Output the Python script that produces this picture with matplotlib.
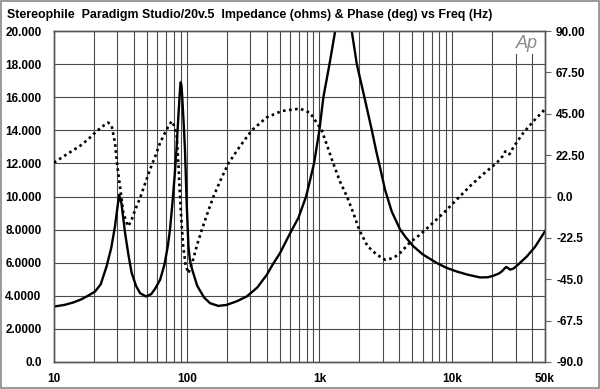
import matplotlib
matplotlib.use('Agg')
import matplotlib.pyplot as plt
from matplotlib.patches import Rectangle
import numpy as np

plt.rcParams['font.family'] = ['Liberation Sans', 'DejaVu Sans']

title = 'Stereophile  Paradigm Studio/20v.5  Impedance (ohms) & Phase (deg) vs Freq (Hz)'

# impedance magnitude (ohms), solid trace
f_z = [10, 12, 14, 16, 18, 20.4, 22.5, 24.9, 27, 28.8, 30, 31, 32.2, 34.3, 36.5,
       38.5, 41.5, 44.5, 49.3, 54, 58, 63, 68, 72, 74.8, 78, 81, 84, 87, 89,
       90, 91.3, 92.5, 95, 97, 100, 103, 105.5, 108, 112, 120, 135, 150, 173,
       200, 240, 283, 340, 401, 445, 505, 560, 621, 693, 793, 850, 910, 998,
       1070, 1190, 1313, 1420, 1530, 1640, 1750, 1910, 2180, 2480, 2700, 2870,
       3120, 3500, 4050, 4500, 5100, 6000, 7660, 9000, 10800, 13000, 16200,
       18500, 20400, 22500, 23600, 24800, 25500, 26500, 27300, 29000, 32000,
       36500, 42000, 50000]
z = [3.35, 3.45, 3.6, 3.78, 4.0, 4.26, 4.7, 5.78, 6.9, 8.2, 9.3, 10.1, 9.6, 7.8,
     6.4, 5.37, 4.6, 4.16, 3.96, 4.1, 4.45, 4.97, 5.9, 7.0, 8.0, 9.6, 11.2,
     13.05, 15.2, 16.5, 16.9, 16.7, 16.0, 14.3, 12.8, 9.5, 7.0, 6.2, 5.8, 5.37,
     4.6, 3.9, 3.55, 3.39, 3.45, 3.68, 3.96, 4.5, 5.27, 5.9, 6.59, 7.3, 8.0,
     8.7, 10.0, 11.0, 12.0, 14.0, 16.0, 18.0, 20.0, 21.2, 21.6, 21.2, 20.0,
     18.0, 16.0, 14.0, 12.6, 11.7, 10.4, 9.1, 8.0, 7.5, 6.99, 6.5, 5.98, 5.7,
     5.47, 5.28, 5.11, 5.12, 5.21, 5.35, 5.47, 5.65, 5.74, 5.66, 5.58, 5.65,
     5.95, 6.38, 6.95, 7.9]

# phase (degrees), dotted trace
f_p = [10, 12.5, 15.7, 18, 20.4, 23, 25.6, 27.2, 28.8, 30, 31.4, 33.3, 35.3,
       36.3, 38.5, 41, 44.5, 48, 52.9, 58, 63, 70, 77, 81, 84, 86.5, 89, 91.5,
       94, 98, 103, 110, 120, 130, 145, 159, 180, 206, 250, 309, 400, 520, 714,
       850, 1040, 1150, 1270, 1430, 1610, 1800, 1990, 2300, 2700, 3120, 3600,
       4050, 4800, 5730, 7000, 8600, 10800, 13600, 17000, 21700, 24000, 25100,
       26000, 27000, 29000, 34400, 41000, 50000]
ph = [18.4, 23, 27.5, 31, 34.7, 38, 40.2, 38.4, 29.2, 16.5, 5.6, -9, -14.4,
      -16.2, -12.5, -7, -0.8, 6, 14.7, 22, 29.2, 36, 41, 38, 33, 18, 0, -15,
      -27, -37, -41.7, -36, -26, -18, -8, 0, 9, 18, 27, 36, 43, 46.5, 47.8,
      45.5, 36, 27, 18, 8, 0, -9, -18, -27, -31.6, -34.4, -33.5, -30.7, -25,
      -20.7, -15, -9, -1.7, 5.6, 12, 18.4, 22, 24.5, 24.5, 23, 27, 34.7, 41, 47.5]

z_ticks = [0, 2, 4, 6, 8, 10, 12, 14, 16, 18, 20]
z_labels = ['0.0', '2.0000', '4.0000', '6.0000', '8.0000', '10.000', '12.000',
            '14.000', '16.000', '18.000', '20.000']
p_ticks = [-90, -67.5, -45, -22.5, 0, 22.5, 45, 67.5, 90]
p_labels = ['-90.0', '-67.5', '-45.0', '-22.5', '0.0', '22.50', '45.00', '67.50', '90.00']
f_ticks = [10, 100, 1000, 10000, 50000]
f_labels = ['10', '100', '1k', '10k', '50k']

fig = plt.figure(figsize=(6, 3.89), dpi=100)
ax = fig.add_axes([54/600, 27/389, 491/600, 331/389])
ax2 = ax.twinx()

gc = '#4a4a4a'
ax.set_xscale('log')
ax.set_xlim(10, 50000)
ax.set_ylim(0, 20)
# vertical grid, the 30k and 40k lines stop short under the Ap mark
for dec in [10, 100, 1000, 10000]:
    for m in range(1, 10):
        f = dec * m
        if f >= 50000 or f == 10:
            continue
        top = 0.93 if f in (30000, 40000) else 1.0
        ax.axvline(f, ymin=0, ymax=top, color=gc, lw=0.8, zorder=1)
for y in z_ticks[1:-1]:
    ax.axhline(y, color=gc, lw=0.8, zorder=1)

ax.plot(f_z, z, color='black', lw=1.7, zorder=4, solid_joinstyle='round')
ax2.plot(f_p, ph, color='black', lw=1.9, zorder=4,
         linestyle=(0, (1.0, 1.3)), dash_capstyle='butt')
ax2.set_ylim(-90, 90)
ax2.set_xlim(10, 50000)

ax.set_xticks(f_ticks)
ax.set_xticklabels(f_labels)
ax.xaxis.set_minor_locator(matplotlib.ticker.NullLocator())
ax.set_yticks(z_ticks)
ax.set_yticklabels(z_labels)
ax2.set_yticks(p_ticks)
ax2.set_yticklabels(p_labels)

ax.tick_params(axis='x', length=0, pad=8, labelsize=8.5)
ax.tick_params(axis='y', length=0, pad=9, labelsize=8.5)
ax2.tick_params(axis='y', length=4, width=0.8, color='#666666', pad=4, labelsize=8.5)
for t in ax.get_xticklabels() + ax.get_yticklabels() + ax2.get_yticklabels():
    t.set_fontweight('bold')

for a in (ax, ax2):
    for s in a.spines.values():
        s.set_color('#555555')
        s.set_linewidth(1.0)

fig.text(7/600, 1 - 15/389, title, fontsize=8.9, fontweight='bold', va='center', ha='left')
fig.text(527/600, 1 - 43/389, 'Ap', fontsize=13, fontstyle='italic', color='#8a8a8a',
         ha='center', va='center')
fig.add_artist(Rectangle((0.0015, 0.0025), 0.997, 0.995, transform=fig.transFigure,
                         fill=False, edgecolor='#888888', lw=1.2))

plt.savefig('out.png', dpi=100)
